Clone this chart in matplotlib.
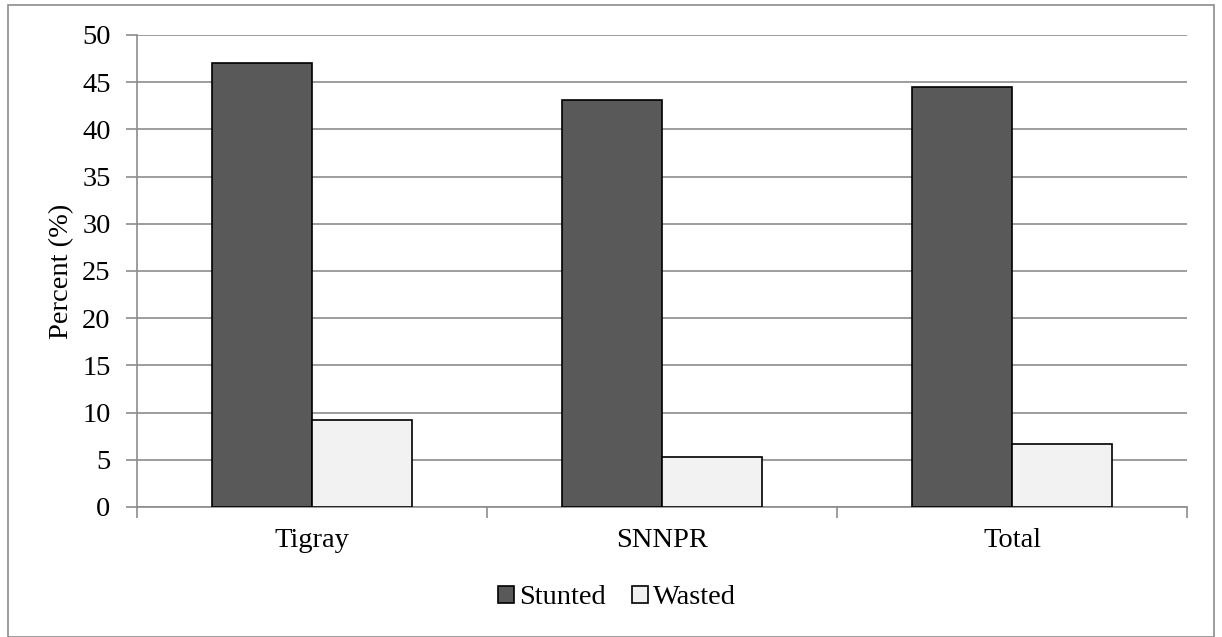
import numpy as np
import matplotlib.pyplot as plt
from matplotlib.patches import Rectangle

# Data
regions = ['Tigray', 'SNNPR', 'Total']
stunted = [47.0, 43.1, 44.5]
wasted = [9.2, 5.3, 6.7]
yticks = list(range(0, 51, 5))

plt.rcParams['font.family'] = ['Liberation Serif', 'DejaVu Serif']
fs = 20.5

fig = plt.figure(figsize=(12.22, 6.37), dpi=100)
ax = fig.add_axes([137 / 1222, 130 / 637, 1050 / 1222, 472 / 637])

x = np.arange(len(regions))
w = 100 / 350
ax.bar(x - w / 2, stunted, w, color='#595959', edgecolor='black', linewidth=1.2, label='Stunted', zorder=3)
ax.bar(x + w / 2, wasted, w, color='#f2f2f2', edgecolor='black', linewidth=1.2, label='Wasted', zorder=3)

ax.set_xlim(-0.5, len(regions) - 0.5)
ax.set_ylim(0, 50)
ax.set_yticks(yticks)
ax.yaxis.grid(True, color='#8c8c8c', linewidth=1.2, zorder=0)
ax.set_axisbelow(True)

# category ticks on boundaries, labels centred
ax.set_xticks(np.arange(-0.5, len(regions), 1.0))
ax.set_xticklabels([])
ax.set_xticks(x, minor=True)
ax.set_xticklabels(regions, minor=True)
ax.tick_params(axis='x', which='minor', length=0, labelsize=fs, pad=15)
ax.tick_params(axis='x', which='major', length=8, color='#8c8c8c', width=1.2)
ax.tick_params(axis='y', length=8, color='#8c8c8c', width=1.2, labelsize=fs, pad=11)

for s in ['top', 'right']:
    ax.spines[s].set_visible(False)
for s in ['left', 'bottom']:
    ax.spines[s].set_color('#8c8c8c')
    ax.spines[s].set_linewidth(1.2)

ax.set_ylabel('Percent (%)', fontsize=fs, labelpad=6)

handles, labels = ax.get_legend_handles_labels()
fig.legend(handles, labels, loc='center', bbox_to_anchor=(617 / 1222, 1 - 598 / 637), ncol=2,
           frameon=False, fontsize=fs, handlelength=0.56, handleheight=0.56,
           handletextpad=0.2, columnspacing=0.9, borderpad=0)

# outer chart border
fig.patches.append(Rectangle((8 / 1222, 0), 1 - 16 / 1222, 1 - 5 / 637,
                             transform=fig.transFigure, fill=False,
                             edgecolor='#8c8c8c', linewidth=1.2))

fig.savefig('out.png', dpi=100)
